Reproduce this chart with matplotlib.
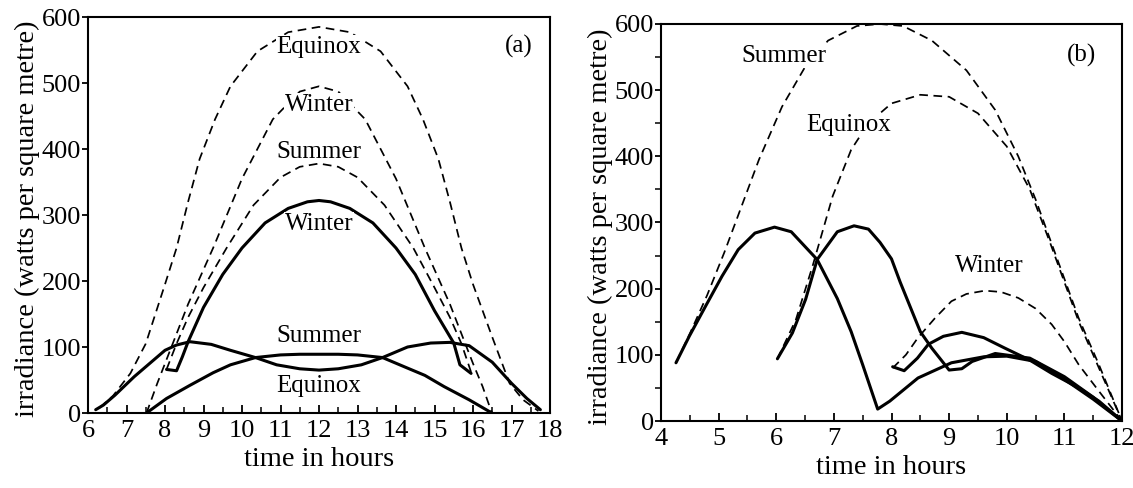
import matplotlib
matplotlib.use("Agg")
import matplotlib.pyplot as plt
from matplotlib.ticker import MultipleLocator

plt.rcParams['font.family'] = ['Liberation Serif', 'DejaVu Serif']

# ---------------- panel (a) data ----------------
a_eq_dash_t = [6.3, 6.65, 7.1, 7.5, 8.0, 8.3, 8.6, 8.9, 9.3, 9.7, 10.4, 11.2, 12.0, 12.8, 13.6, 14.3, 14.7, 15.1, 15.4, 15.7, 16.0, 16.5, 16.95, 17.3, 17.7]
a_eq_dash_v = [8, 26, 60, 105, 195, 250, 320, 385, 445, 495, 548, 577, 585, 577, 548, 495, 445, 385, 320, 250, 195, 115, 45, 20, 3]

a_wi_dash_t = [7.52, 7.8, 8.0, 8.3, 8.6, 9.25, 10.0, 10.8, 11.5, 12.0, 12.5, 13.2, 14.0, 14.75, 15.4, 15.7, 16.0, 16.25, 16.49]
a_wi_dash_v = [0, 45, 75, 120, 165, 250, 355, 445, 487, 495, 487, 445, 355, 250, 165, 120, 75, 40, 0]

a_su_dash_t = [8.04, 8.3, 8.6, 9.0, 9.6, 10.3, 11.0, 11.5, 12.0, 12.5, 13.0, 13.7, 14.45, 15.0, 15.4, 15.7, 15.95]
a_su_dash_v = [66, 105, 145, 190, 250, 315, 357, 373, 378, 373, 357, 315, 250, 190, 145, 105, 62]

a_wi_sol_t = [8.04, 8.3, 8.45, 8.6, 9.0, 9.5, 10.0, 10.6, 11.2, 11.7, 12.0, 12.3, 12.8, 13.4, 14.0, 14.5, 15.0, 15.5, 15.66, 15.95]
a_wi_sol_v = [66, 64, 85, 108, 160, 210, 250, 288, 310, 320, 322, 320, 310, 288, 250, 210, 155, 106, 73, 60]

a_su_sol_t = [6.2, 6.4, 6.7, 7.2, 7.7, 8.0, 8.3, 8.65, 9.2, 9.7, 10.35, 10.9, 11.5, 12.0, 12.5, 13.1, 13.65, 14.3, 14.9, 15.4, 15.9, 16.5, 17.0, 17.4, 17.75]
a_su_sol_v = [5, 12, 27, 55, 80, 95, 103, 108, 104, 95, 84, 73, 67, 65, 67, 73, 84, 100, 106, 107, 102, 77, 45, 22, 5]

a_eq_sol_t = [7.52, 8.04, 8.65, 9.25, 9.7, 10.35, 11.0, 11.5, 12.0, 12.5, 13.0, 13.65, 14.3, 14.75, 15.25, 15.9, 16.49]
a_eq_sol_v = [0, 22, 42, 61, 73, 84, 88, 89, 89, 89, 88, 84, 68, 57, 40, 20, 0]

# ---------------- panel (b) data ----------------
b_su_dash_t = [4.26, 4.5, 4.8, 5.1, 5.4, 5.7, 6.1, 6.5, 6.9, 7.4, 7.8, 8.2, 8.7, 9.3, 9.8, 10.2, 10.5, 10.75, 11.25, 11.6, 12.0]
b_su_dash_v = [88, 132, 190, 255, 325, 395, 475, 535, 575, 597, 600, 597, 575, 530, 470, 400, 335, 275, 155, 85, 0]

b_su_sol_t = [4.26, 4.49, 4.77, 5.06, 5.34, 5.63, 5.97, 6.26, 6.71, 7.06, 7.3, 7.5, 7.76, 7.97, 8.46, 9.04, 9.6, 10.0, 10.5, 11.0, 11.5, 12.0]
b_su_sol_v = [88, 128, 173, 219, 259, 284, 293, 286, 244, 185, 135, 85, 18, 30, 65, 88, 97, 98, 90, 63, 33, 0]

b_eq_dash_t = [6.02, 6.34, 6.63, 6.98, 7.3, 7.6, 8.0, 8.5, 9.0, 9.5, 10.0, 10.4, 10.75, 11.25, 11.6, 12.0]
b_eq_dash_v = [94, 153, 234, 340, 410, 450, 480, 493, 490, 465, 415, 350, 270, 150, 80, 0]

b_eq_sol_t = [6.02, 6.28, 6.51, 6.71, 7.06, 7.35, 7.6, 7.8, 8.0, 8.15, 8.5, 8.7, 9.0, 9.22, 9.4, 9.8, 10.4, 11.0, 11.5, 12.0]
b_eq_sol_v = [94, 133, 184, 244, 286, 295, 290, 270, 245, 210, 135, 110, 77, 79, 90, 102, 95, 67, 36, 0]

b_wi_dash_t = [8.02, 8.25, 8.46, 8.75, 9.04, 9.3, 9.62, 9.9, 10.2, 10.5, 10.78, 11.0, 11.25, 11.6, 12.0]
b_wi_dash_v = [80, 100, 126, 155, 181, 192, 197, 195, 186, 170, 146, 120, 85, 45, 0]

b_wi_sol_t = [8.02, 8.22, 8.45, 8.64, 8.9, 9.22, 9.6, 9.97, 10.4, 10.78, 11.25, 11.6, 12.0]
b_wi_sol_v = [82, 76, 95, 116, 128, 134, 126, 110, 92, 72, 50, 30, 0]

a_labels = [("Equinox", 12.0, 555), ("Winter", 12.0, 467), ("Summer", 12.0, 396),
            ("Winter", 12.0, 287), ("Summer", 12.0, 117), ("Equinox", 12.0, 41)]
b_labels = [("Summer", 6.13, 552), ("Equinox", 7.25, 447), ("Winter", 9.7, 235)]

# ---------------- figure ----------------
W, H = 1133, 488
fig = plt.figure(figsize=(W / 100, H / 100), dpi=100)


def axes_px(x0, x1, ytop, ybot):
    return fig.add_axes([x0 / W, (H - ybot) / H, (x1 - x0) / W, (ybot - ytop) / H])


axA = axes_px(88, 550, 17, 413)
axB = axes_px(661, 1122, 24, 421)

SOL = dict(color='black', lw=2.2, solid_capstyle='round', solid_joinstyle='round')
DASH = dict(color='black', lw=1.25, dashes=(5, 3.2))

for t, v in [(a_eq_dash_t, a_eq_dash_v), (a_wi_dash_t, a_wi_dash_v), (a_su_dash_t, a_su_dash_v)]:
    axA.plot(t, v, **DASH)
for t, v in [(a_wi_sol_t, a_wi_sol_v), (a_su_sol_t, a_su_sol_v), (a_eq_sol_t, a_eq_sol_v)]:
    axA.plot(t, v, **SOL)

for t, v in [(b_su_dash_t, b_su_dash_v), (b_eq_dash_t, b_eq_dash_v), (b_wi_dash_t, b_wi_dash_v)]:
    axB.plot(t, v, clip_on=False, **DASH)
for t, v in [(b_su_sol_t, b_su_sol_v), (b_eq_sol_t, b_eq_sol_v), (b_wi_sol_t, b_wi_sol_v)]:
    axB.plot(t, v, **SOL)

FS_TXT = 18
for s, x, y in a_labels:
    axA.text(x, y, s, ha='center', va='center', fontsize=FS_TXT,
             bbox=dict(facecolor='white', edgecolor='none', pad=0.5))
for s, x, y in b_labels:
    axB.text(x, y, s, ha='center', va='center', fontsize=FS_TXT,
             bbox=dict(facecolor='white', edgecolor='none', pad=0.5))

axA.text(17.2, 555, "(a)", ha='center', va='center', fontsize=FS_TXT)
axB.text(11.3, 552, "(b)", ha='center', va='center', fontsize=FS_TXT)

axA.set_xlim(6, 18)
axA.set_xticks(range(6, 19))
axB.set_xlim(4, 12)
axB.set_xticks(range(4, 13))
for ax in (axA, axB):
    ax.set_ylim(0, 600)
    ax.set_yticks(range(0, 601, 100))
    ax.xaxis.set_minor_locator(MultipleLocator(0.5))
    for sp in ax.spines.values():
        sp.set_linewidth(1.5)
    ax.tick_params(axis='x', which='major', direction='in', length=6, width=1.3,
                   labelsize=19, pad=5)
    ax.tick_params(axis='x', which='minor', direction='in', length=4, width=1.1)
    ax.tick_params(axis='y', which='major', direction='out', length=4, width=1.3,
                   labelsize=19, pad=1)
    ax.set_xlabel("time in hours", fontsize=20.5, labelpad=4)
    ax.set_ylabel("irradiance (watts per square metre)", fontsize=20.5, labelpad=1)
    ax.yaxis.label.set_y(0.49)

axB.yaxis.set_minor_locator(MultipleLocator(50))
axB.tick_params(axis='y', which='minor', direction='out', length=4, width=1.1)

fig.savefig("out.png", dpi=100)
